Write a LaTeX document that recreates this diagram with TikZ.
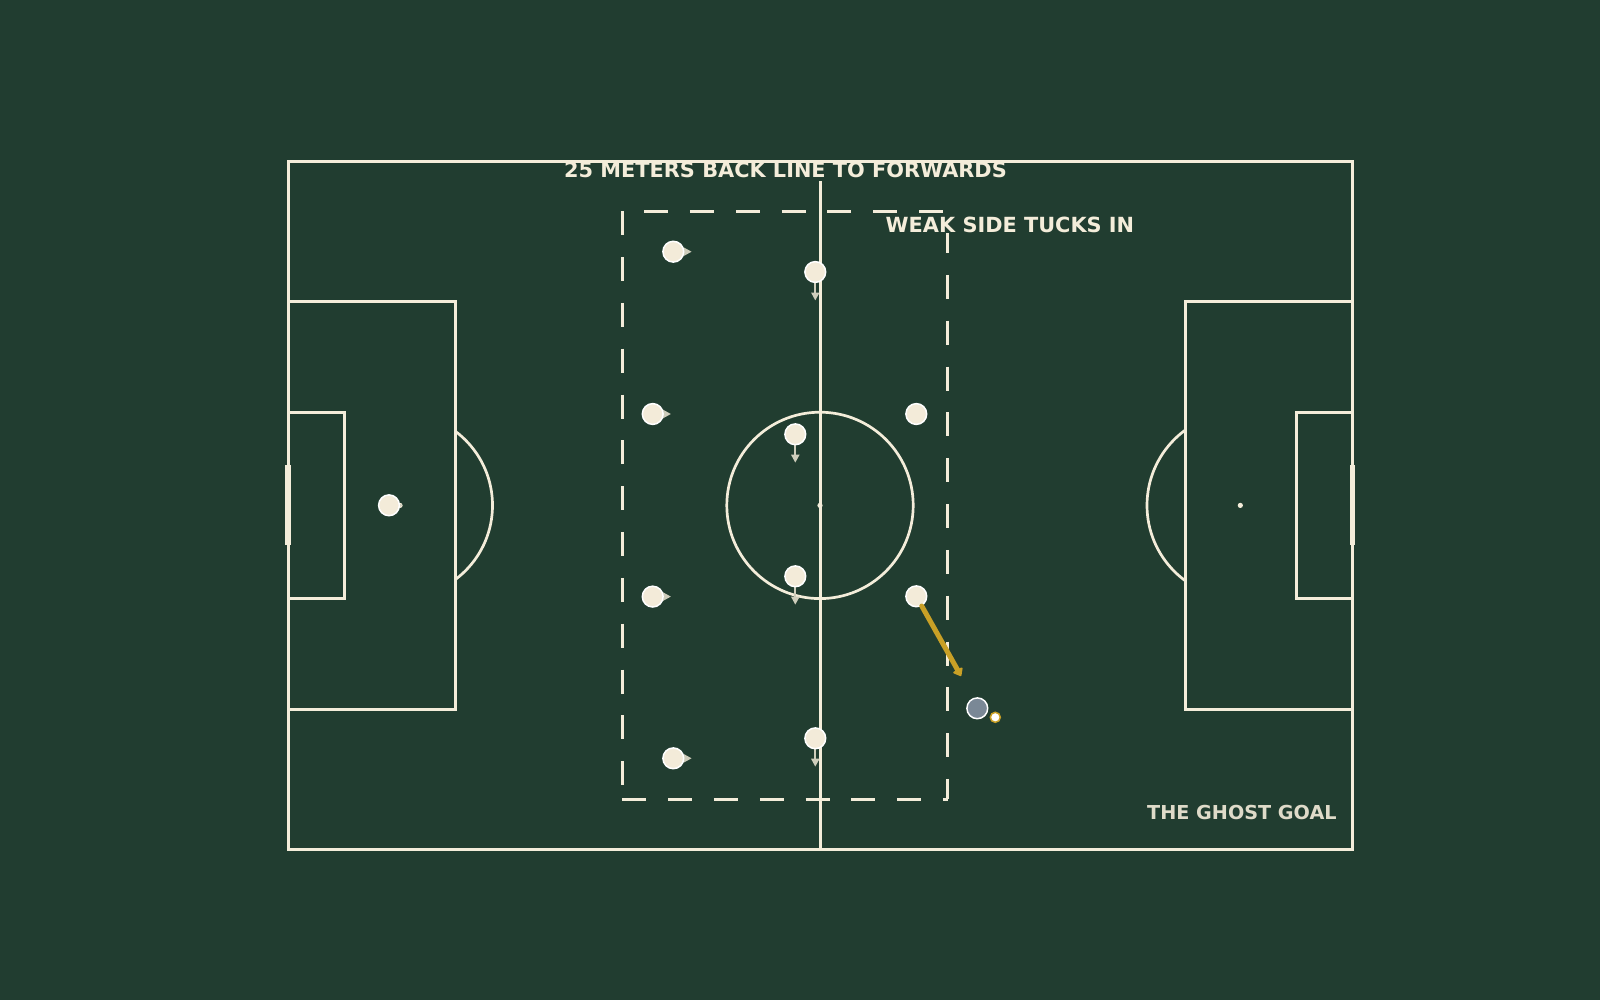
\documentclass[tikz,border=0pt]{standalone}
\usepackage{fontspec}
\setmainfont{DejaVu Sans}
\usetikzlibrary{arrows.meta}
\definecolor{bgc}{RGB}{33,61,48}
\definecolor{chalk}{RGB}{244,237,218}
\definecolor{pfill}{RGB}{243,235,217}
\definecolor{gold}{RGB}{201,160,38}
\definecolor{slate}{RGB}{122,136,150}
\pgfdeclarelayer{fieldlayer}
\pgfdeclarelayer{arrowlayer}
\pgfsetlayers{fieldlayer,arrowlayer,main}
\begin{document}
\begin{tikzpicture}[x=1pt,y=-1pt,
  fieldline/.style={draw=chalk,line width=3pt},
  thinline/.style={draw=chalk,line width=2.7pt},
  zonedash/.style={draw=chalk,line width=3pt,dash pattern=on 24pt off 21.83pt},
  player/.style={circle,fill=pfill,draw=white,line width=1.5pt,minimum size=20.8pt,inner sep=0pt},
  oppo/.style={player,fill=slate},
  ballstyle/.style={circle,fill=white,draw=gold,line width=1.5pt,minimum size=10pt,inner sep=0pt},
  movearrow/.style={draw=chalk!82!bgc,line width=2pt,-{Triangle[length=8pt,width=8pt,fill=chalk!82!bgc]}},
  runarrow/.style={draw=gold,line width=5pt,line cap=round,line join=round,-{Triangle[length=8pt,width=12pt,round]}},
  headtext/.style={font=\fontsize{20.85}{24}\selectfont\bfseries,text=chalk,fill=bgc,inner xsep=3pt,inner ysep=0pt,text height=14pt,text depth=3.5pt},
  notetext/.style={font=\fontsize{19.2}{23}\selectfont\bfseries,text=chalk!90!bgc,inner sep=0pt}
]
\useasboundingbox (0,0) rectangle (1600,1000);
\begin{pgfonlayer}{fieldlayer}
  \fill[bgc] (0,0) rectangle (1600,1000);
  % pitch outline
  \draw[fieldline] (288.3,161.7) rectangle (1352.3,849.3);
  % halfway line
  \draw[fieldline] (820,161.7) -- (820,849.3);
  % centre circle and spot
  \draw[thinline] (820,505.4) circle[radius=93.2pt];
  \fill[chalk] (820,505.4) circle[radius=2.6pt];
  % left penalty area, goal area, goal, spot, arc
  \draw[fieldline] (288.3,301.7) rectangle (455.3,709.3);
  \draw[fieldline] (288.3,412.3) rectangle (344.7,598.3);
  \fill[chalk] (285.2,465) rectangle (290.8,545);
  \fill[chalk] (400,505.4) circle[radius=2.6pt];
  \begin{scope}
    \clip (455.3,0) rectangle (1600,1000);
    \draw[thinline] (400,505.4) circle[radius=92.5pt];
  \end{scope}
  % right penalty area, goal area, goal, spot, arc
  \draw[fieldline] (1185.3,301.7) rectangle (1352.3,709.3);
  \draw[fieldline] (1296.3,412.3) rectangle (1352.3,598.3);
  \fill[chalk] (1349.5,465) rectangle (1355.1,545);
  \fill[chalk] (1240.3,505.4) circle[radius=2.6pt];
  \begin{scope}
    \clip (0,0) rectangle (1185.3,1000);
    \draw[thinline] (1240.3,505.4) circle[radius=93.3pt];
  \end{scope}
  % compact zone (dashed)
  \draw[zonedash,dash phase=24pt] (622.3,211.2) -- (947.7,211.2);
  \draw[zonedash,dash phase=28pt] (947.7,211.2) -- (947.7,799.3);
  \draw[zonedash] (622.3,799.3) -- (947.7,799.3);
  \draw[zonedash] (622.3,211.2) -- (622.3,799.3);
\end{pgfonlayer}

% players
\node[player] (gk) at (389,505.3) {};
\node[player] (d1) at (673.3,251.7) {};
\node[player] (d2) at (652.7,414) {};
\node[player] (d3) at (652.7,596.6) {};
\node[player] (d4) at (673.3,758.3) {};
\node[player] (m1) at (815.3,272) {};
\node[player] (m2) at (795.3,434.3) {};
\node[player] (m3) at (795.3,576.3) {};
\node[player] (m4) at (815.3,738.3) {};
\node[player] (f1) at (916.3,414) {};
\node[player] (f2) at (916.3,596.3) {};
\node[oppo] (opp) at (977.3,708.3) {};
\node[ballstyle] (ball) at (995.3,717.3) {};

% arrow end points
\coordinate (gkt) at (402.7,505.3);
\coordinate (d1t) at (691.7,251.7);
\coordinate (d2t) at (671,414);
\coordinate (d3t) at (671,596.6);
\coordinate (d4t) at (691.7,758.3);
\coordinate (m1t) at (815.3,300.5);
\coordinate (m2t) at (795.3,462.7);
\coordinate (m3t) at (795.3,604.7);
\coordinate (m4t) at (815.3,766.7);
\coordinate (f2t) at (961,676);

\begin{pgfonlayer}{arrowlayer}
  \draw[movearrow] (gk.center) -- (gkt);
  \draw[movearrow] (d1.center) -- (d1t);
  \draw[movearrow] (d2.center) -- (d2t);
  \draw[movearrow] (d3.center) -- (d3t);
  \draw[movearrow] (d4.center) -- (d4t);
  \draw[movearrow] (m1.center) -- (m1t);
  \draw[movearrow] (m2.center) -- (m2t);
  \draw[movearrow] (m3.center) -- (m3t);
  \draw[movearrow] (m4.center) -- (m4t);
\end{pgfonlayer}
\draw[runarrow] (f2) -- (f2t);

% texts
\node[headtext,anchor=base west] (title) at (561,177.3) {25 METERS BACK LINE TO FORWARDS};
\node[headtext,anchor=base west,text depth=0.5pt] (weak) at (882.5,232.3) {WEAK SIDE TUCKS IN};
\node[notetext,anchor=base west] (ghost) at (1147,819.3) {THE GHOST GOAL};
\end{tikzpicture}
\end{document}
